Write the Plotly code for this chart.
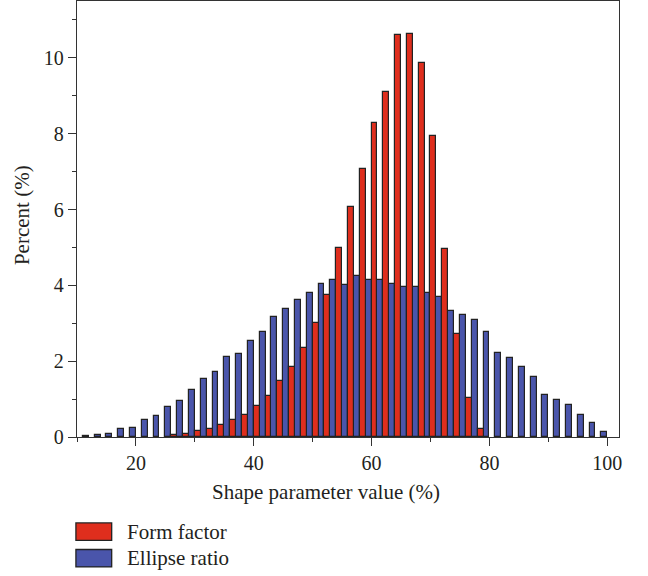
import plotly.graph_objects as go

# Bin centres (2 % wide bins) and percentage of particles in each bin
bin_centres = list(range(12, 101, 2))

ellipse_ratio = [
    0.02, 0.05, 0.08, 0.20, 0.23, 0.44, 0.56, 0.80, 0.96, 1.24,
    1.52, 1.72, 2.11, 2.19, 2.53, 2.78, 3.16, 3.37, 3.62, 3.79,
    4.03, 4.15, 4.01, 4.24, 4.15, 4.15, 4.04, 3.96, 3.95, 3.79,
    3.68, 3.32, 3.21, 3.09, 2.76, 2.22, 2.09, 1.85, 1.59, 1.12,
    0.97, 0.84, 0.57, 0.36, 0.12,
]

form_factor = [
    None, None, None, None, None, None, None, 0.06, 0.07, 0.15,
    0.20, 0.32, 0.46, 0.58, 0.83, 1.08, 1.47, 1.85, 2.34, 3.02,
    3.75, 4.99, 6.06, 7.07, 8.29, 9.11, 10.60, 10.62, 9.87, 7.93,
    4.95, 2.73, 1.03, 0.20, None, None, None, None, None, None,
    None, None, None, None, None,
]

x_ticks = [20, 40, 60, 80, 100]
y_ticks = [0, 2, 4, 6, 8, 10]

RED = "#DF2E1D"
BLUE = "#4A55AB"
EDGE = "#222222"
TEXT = "#231F20"
FONT = "Liberation Serif"

fig = go.Figure()
fig.add_trace(go.Bar(
    x=bin_centres, y=ellipse_ratio, name="Ellipse ratio",
    marker=dict(color=BLUE, line=dict(color=EDGE, width=1.2)),
    showlegend=False,
))
fig.add_trace(go.Bar(
    x=bin_centres, y=form_factor, name="Form factor",
    marker=dict(color=RED, line=dict(color=EDGE, width=1.2)),
    showlegend=False,
))

axis_common = dict(
    showline=True, linecolor="#333333", linewidth=1.3, mirror=True,
    ticks="outside", tickcolor="#333333", tickwidth=1.2, ticklen=8,
    showgrid=False, zeroline=False,
    tickfont=dict(family=FONT, size=20, color=TEXT),
)

fig.update_xaxes(
    range=[10, 102], tickmode="array", tickvals=x_ticks,
    minor=dict(dtick=10, tick0=0, ticks="outside", ticklen=4,
               tickcolor="#333333", tickwidth=1.2),
    **axis_common,
)
fig.update_yaxes(
    range=[0, 11.5], tickmode="array", tickvals=y_ticks,
    minor=dict(dtick=1, tick0=0, ticks="outside", ticklen=4,
               tickcolor="#333333", tickwidth=1.2),
    **axis_common,
)

title_font = dict(family=FONT, size=21, color=TEXT)
annotations = [
    dict(text="Shape parameter value (%)", xref="paper", yref="paper",
         x=0.4585, y=-0.126, xanchor="center", yanchor="middle",
         showarrow=False, font=title_font),
    dict(text="Percent (%)", xref="paper", yref="paper",
         x=-0.1015, y=0.509, xanchor="center", yanchor="middle",
         textangle=-90, showarrow=False, font=title_font),
]

# Legend drawn below the axes: swatches plus labels
legend_items = [("Form factor", RED), ("Ellipse ratio", BLUE)]
shapes = []
row_top = [-0.197, -0.258]
for (label, colour), top in zip(legend_items, row_top):
    shapes.append(dict(
        type="rect", xref="paper", yref="paper",
        x0=-0.002, x1=0.064, y0=top, y1=top - 0.040,
        fillcolor=colour, line=dict(color=EDGE, width=1.3),
    ))
    annotations.append(dict(
        text=label, xref="paper", yref="paper",
        x=0.088, y=top - 0.020, xanchor="left", yanchor="middle",
        showarrow=False, font=title_font,
    ))

fig.update_layout(
    width=648, height=576,
    margin=dict(l=77, r=29, t=1, b=139, autoexpand=False),
    paper_bgcolor="white", plot_bgcolor="white",
    barmode="group", bargap=0, bargroupgap=0,
    shapes=shapes, annotations=annotations,
    showlegend=False,
)

fig.write_html("out.html")
